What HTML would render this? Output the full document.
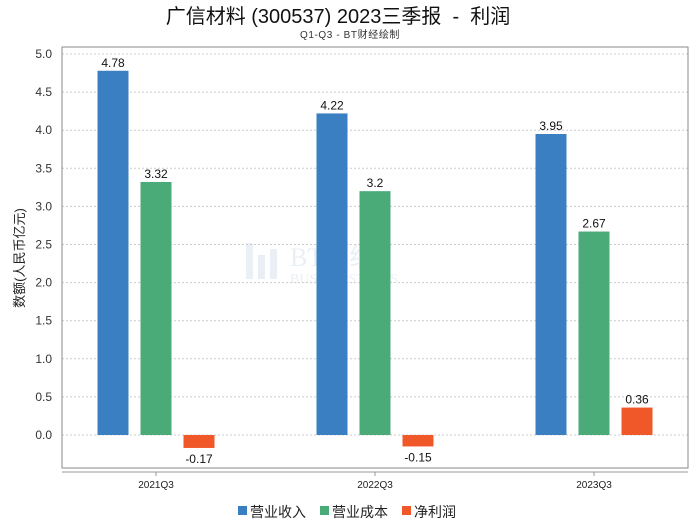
<!DOCTYPE html>
<html><head><meta charset="utf-8">
<style>
body{margin:0;background:#fff;}
svg{display:block;font-family:"Liberation Sans","Noto Sans CJK SC",sans-serif;}
</style></head>
<body>
<svg id="chart" width="700" height="524" viewBox="0 0 700 524">
<text x="338" y="23" text-anchor="middle" font-size="20" fill="#111" xml:space="preserve">广信材料 (300537) 2023三季报  -  利润</text>
<text x="350" y="38" text-anchor="middle" font-size="10" letter-spacing="0.6" fill="#333">Q1-Q3 - BT财经绘制</text>
<g opacity="0.1">
<rect x="246" y="243" width="7" height="36" fill="#3a6fb0"/>
<rect x="258" y="255" width="7" height="24" fill="#3a6fb0"/>
<rect x="270" y="249" width="7" height="30" fill="#3a6fb0"/>
<text x="290" y="266" font-size="26" font-family="Liberation Serif,serif" fill="#3a6fb0">BT财经</text>
<text x="290" y="283" font-size="14" font-family="Liberation Serif,serif" fill="#3a6fb0">BUSINESSTIMES</text>
</g>
<text transform="translate(24,258) rotate(-90)" text-anchor="middle" font-size="13" fill="#222">数额(人民币亿元)</text>
<g id="grid"></g>
<rect x="62" y="47" width="626" height="421" fill="none" stroke="#888"/>
<line x1="62" y1="472" x2="688" y2="472" stroke="#999"/>
<g id="bars"></g>
<g font-size="14" fill="#222">
<rect x="238" y="506" width="9" height="9" fill="#3a7fc1"/>
<text x="250" y="517">营业收入</text>
<rect x="320" y="506" width="9" height="9" fill="#4aaa78"/>
<text x="332" y="517">营业成本</text>
<rect x="402" y="506" width="9" height="9" fill="#f0582a"/>
<text x="414" y="517">净利润</text>
</g>
</svg>
<script>
const categories = ["2021Q3","2022Q3","2023Q3"];
const revenue = [4.78,4.22,3.95];
const cost = [3.32,3.2,2.67];
const profit = [-0.17,-0.15,0.36];
const yTicks = [0,0.5,1,1.5,2,2.5,3,3.5,4,4.5,5];
const NS="http://www.w3.org/2000/svg";
const y = v => 435 - v*76.2;
const xc = i => 156 + i*219;
const grid=document.getElementById('grid'), bars=document.getElementById('bars');
function mk(tag,attrs,parent){const e=document.createElementNS(NS,tag);for(const k in attrs)e.setAttribute(k,attrs[k]);parent.appendChild(e);return e;}
yTicks.forEach(t=>{
  const l=mk('line',{x1:62,x2:688,y1:y(t),y2:y(t),stroke:'#ccc','stroke-dasharray':'2,2'},grid);
  
  
  const tx=mk('text',{x:52,y:y(t)+4,'text-anchor':'end','font-size':12,fill:'#333'},grid);
  tx.textContent=t.toFixed(1);
  
  
});
const series=[[revenue,'#3a7fc1',-43,'revenue'],[cost,'#4aaa78',0,'cost'],[profit,'#f0582a',43,'profit']];
categories.forEach((c,i)=>{
  series.forEach(([vals,col,off,nm])=>{
    const v=vals[i], x=xc(i)+off-15.5;
    const top=Math.min(y(v),y(0)), h=Math.abs(y(v)-y(0));
    const r=mk('rect',{x:x,y:top,width:31,height:h,fill:col},bars);
    
    
    const t=mk('text',{x:x+15.5,y:v>=0?y(v)-4:y(v)+15,'text-anchor':'middle','font-size':12,fill:'#111'},bars);
    t.textContent=String(v);
    
    
  });
  mk('line',{x1:xc(i),x2:xc(i),y1:472,y2:476,stroke:'#999'},bars);
  const lb=mk('text',{x:xc(i),y:488,'text-anchor':'middle','font-size':10,fill:'#222'},bars);
  lb.textContent=c;
  
  
});
</script>
</body></html>
